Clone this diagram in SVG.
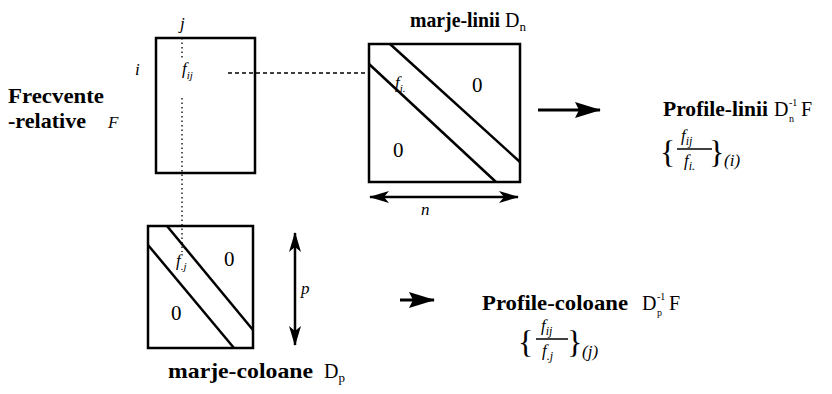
<svg xmlns="http://www.w3.org/2000/svg" width="832" height="394" viewBox="0 0 832 394">
<style>
.box{fill:none;stroke:#000;stroke-width:2.5}
.ln{stroke:#000;stroke-width:2.5;fill:none}
.dot{stroke:#000;stroke-width:1.3;stroke-dasharray:1.5 3;fill:none}
.dash{stroke:#000;stroke-width:1.3;stroke-dasharray:4 3;fill:none}
.lbl{font-family:"Liberation Serif",serif;font-weight:bold;font-size:21px;fill:#000}
.rm{font-family:"Liberation Serif",serif;font-size:20px;fill:#000}
.sm{font-family:"Liberation Serif",serif;font-size:10px;fill:#000}
.it{font-family:"Liberation Serif",serif;font-style:italic;font-size:17px;fill:#000}
.zero{font-family:"Liberation Serif",serif;font-size:21px;fill:#000}
.br{font-family:"Liberation Serif",serif;font-size:32px;fill:#000}
</style>
<defs>
<marker id="ah" viewBox="0 0 20 12" refX="19" refY="6" markerWidth="20" markerHeight="12" markerUnits="userSpaceOnUse" orient="auto-start-reverse">
<path d="M0,0 L20,6 L0,12 L5,6 z" fill="#000"/>
</marker>
<marker id="big" viewBox="0 0 26 16" refX="25" refY="8" markerWidth="26" markerHeight="16" markerUnits="userSpaceOnUse" orient="auto">
<path d="M0,0 L26,8 L0,16 L4,8 z" fill="#000"/>
</marker>
</defs>

<g id="F">
<rect class="box" x="156" y="38" width="99" height="135"/>
<text class="lbl" x="8" y="103" textLength="96" lengthAdjust="spacingAndGlyphs">Frecvente</text>
<text class="lbl" x="8" y="128" textLength="78" lengthAdjust="spacingAndGlyphs">-relative</text>
<text class="it" x="108" y="128">F</text>
<text class="it" x="180" y="29">j</text>
<text class="it" x="135" y="75">i</text>
<text class="it" x="182" y="74">f<tspan font-size="11" dy="5">ij</tspan></text>
</g>

<g id="Dn">
<rect class="box" x="369" y="44" width="151" height="138"/>
<line class="ln" x1="390" y1="44" x2="520" y2="162"/>
<line class="ln" x1="369" y1="64" x2="496" y2="182"/>
<text class="it" x="395" y="88">f<tspan font-size="11" dy="4">i.</tspan></text>
<text class="zero" x="472" y="92">0</text>
<text class="zero" x="393" y="157">0</text>
<text class="lbl" x="410" y="27" textLength="90" lengthAdjust="spacingAndGlyphs">marje-linii</text>
<text class="rm" x="505" y="27">D<tspan font-size="13" dy="4">n</tspan></text>
</g>

<g id="Dp">
<rect class="box" x="148" y="226" width="105" height="122"/>
<line class="ln" x1="167" y1="226" x2="253" y2="330"/>
<line class="ln" x1="148" y1="245" x2="234" y2="348"/>
<text class="it" x="176" y="266">f<tspan font-size="11" dy="4">.j</tspan></text>
<text class="zero" x="224" y="266">0</text>
<text class="zero" x="171" y="320">0</text>
<text class="lbl" x="168" y="378" textLength="145" lengthAdjust="spacingAndGlyphs">marje-coloane</text>
<text class="rm" x="324" y="378">D<tspan font-size="13" dy="4">p</tspan></text>
</g>

<g id="ProfLinii">
<text class="lbl" x="663" y="116" textLength="105" lengthAdjust="spacingAndGlyphs">Profile-linii</text>
<text class="rm" x="774" y="116">D</text>
<text class="sm" x="789" y="106">-1</text>
<text class="sm" x="789" y="122">n</text>
<text class="rm" x="801" y="116">F</text>
<text class="br" x="660" y="163">{</text>
<text class="it" x="681" y="141" font-size="18">f<tspan font-size="12" dy="4">ij</tspan></text>
<line x1="677" y1="149" x2="712" y2="149" stroke="#000" stroke-width="1.5"/>
<text class="it" x="684" y="166" font-size="18">f<tspan font-size="12" dy="4">i.</tspan></text>
<text class="br" x="709" y="163">}</text>
<text class="it" x="724" y="166" font-size="12">(i)</text>
</g>

<g id="ProfColoane">
<text class="lbl" x="482" y="310" textLength="146" lengthAdjust="spacingAndGlyphs">Profile-coloane</text>
<text class="rm" x="642" y="310">D</text>
<text class="sm" x="657" y="300">-1</text>
<text class="sm" x="657" y="316">p</text>
<text class="rm" x="669" y="310">F</text>
<text class="br" x="518" y="353">{</text>
<text class="it" x="541" y="331" font-size="18">f<tspan font-size="12" dy="4">ij</tspan></text>
<line x1="536" y1="339" x2="568" y2="339" stroke="#000" stroke-width="1.5"/>
<text class="it" x="542" y="356" font-size="18">f<tspan font-size="12" dy="4">.j</tspan></text>
<text class="br" x="567" y="353">}</text>
<text class="it" x="582" y="357" font-size="12">(j)</text>
</g>

<g id="connectors">
<line class="dot" x1="182" y1="38" x2="182" y2="60"/>
<line class="dot" x1="182" y1="98" x2="182" y2="252"/>
<line class="dash" x1="228" y1="73" x2="368" y2="73"/>
<line class="ln" x1="370" y1="197" x2="518" y2="197" marker-start="url(#ah)" marker-end="url(#ah)"/>
<text class="it" x="421" y="215">n</text>
<line class="ln" x1="295" y1="233" x2="295" y2="345" marker-start="url(#ah)" marker-end="url(#ah)"/>
<text class="it" x="301" y="294">p</text>
<line x1="538" y1="110" x2="600" y2="110" stroke="#000" stroke-width="3" marker-end="url(#big)"/>
<line x1="400" y1="300" x2="434" y2="300" stroke="#000" stroke-width="3" marker-end="url(#big)"/>
</g>
</svg>
